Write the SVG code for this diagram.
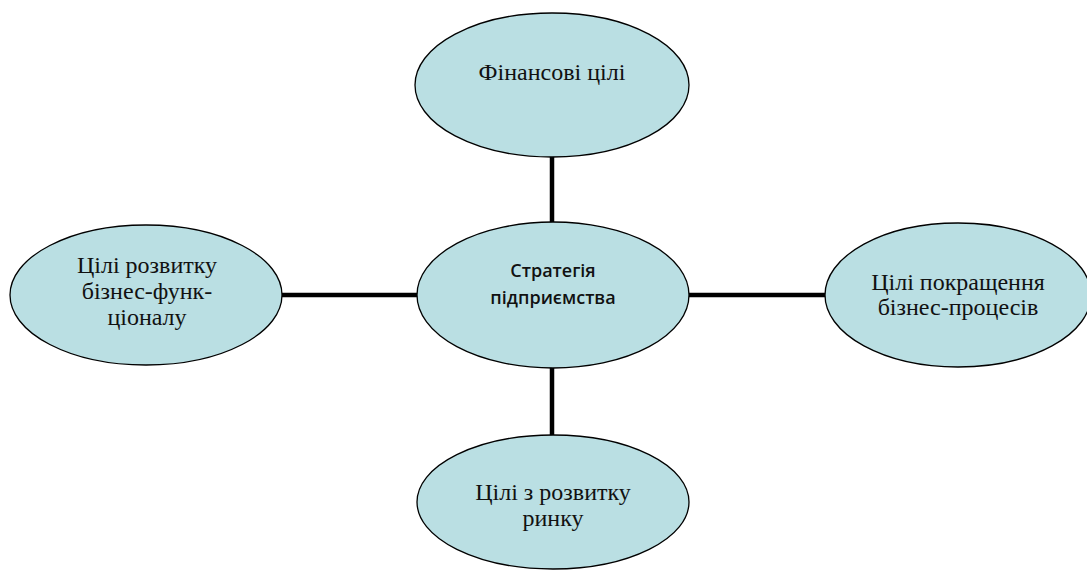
<svg xmlns="http://www.w3.org/2000/svg" width="1087" height="571" viewBox="0 0 1087 571">
<style>
.n{fill:#badfe3;stroke:#000;stroke-width:1.3}
.t{font-family:'Liberation Serif','Times New Roman','DejaVu Serif',serif;font-size:24px;fill:#111;text-anchor:middle}
.c{font-family:'Open Sans','Noto Sans',sans-serif;font-size:18px;font-weight:600;fill:#111;text-anchor:middle}
.e{stroke:#000;stroke-width:4.5;fill:none}
</style>
<rect width="1087" height="571" fill="#fff"/>
<g id="connectors">
<line class="e" x1="552" y1="156" x2="552" y2="223"/>
<line class="e" x1="282" y1="295" x2="418" y2="295"/>
<line class="e" x1="689" y1="295" x2="826" y2="295"/>
<line class="e" x1="552" y1="367" x2="552" y2="436"/>
</g>
<g id="top"><ellipse class="n" cx="552" cy="85" rx="137" ry="72"/><text class="t" x="552" y="80">Фінансові цілі</text></g>
<g id="center"><ellipse class="n" cx="553" cy="295" rx="136" ry="73"/><text class="c" x="553" y="277">Стратегія</text><text class="c" x="553" y="304">підприємства</text></g>
<g id="left"><ellipse class="n" cx="146" cy="295" rx="136" ry="70"/><text class="t" x="147" y="273">Цілі розвитку</text><text class="t" x="147" y="299">бізнес-функ-</text><text class="t" x="147" y="325">ціоналу</text></g>
<g id="right"><ellipse class="n" cx="958" cy="295" rx="133" ry="72"/><text class="t" x="958" y="290">Цілі покращення</text><text class="t" x="958" y="315">бізнес-процесів</text></g>
<g id="bottom"><ellipse class="n" cx="553" cy="502" rx="136" ry="67"/><text class="t" x="553" y="500">Цілі з розвитку</text><text class="t" x="553" y="526">ринку</text></g>
</svg>
